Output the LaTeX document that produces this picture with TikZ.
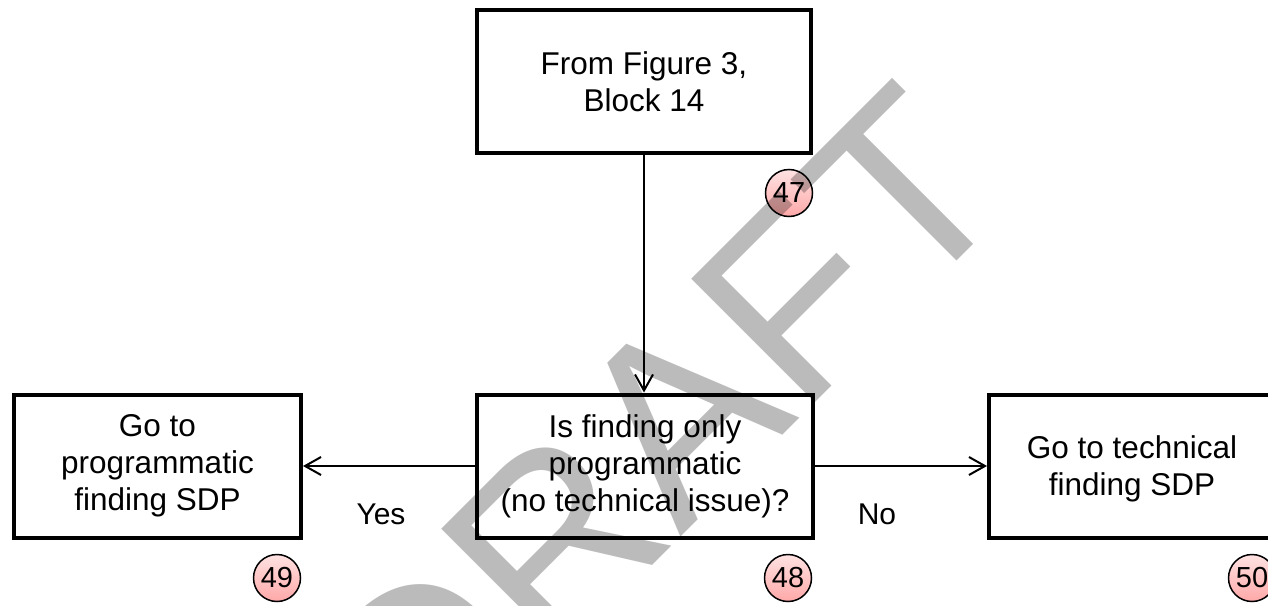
\documentclass[tikz,border=0pt]{standalone}
\usepackage{fontspec}
\setmainfont{Liberation Sans}
\usetikzlibrary{arrows.meta}
\definecolor{wm}{RGB}{187,187,187}
\definecolor{btop}{RGB}{255,226,226}
\definecolor{bbot}{RGB}{255,168,168}
\begin{document}
\begin{tikzpicture}[x=1pt,y=-1pt,
  box/.style={draw,line width=4pt,minimum width=#1,minimum height=143pt,inner sep=0pt,align=center,font=\fontsize{31.5}{37}\selectfont},
  badge/.style={circle,draw,line width=1.5pt,minimum size=47pt,inner sep=0pt,top color=btop,bottom color=bbot,font=\fontsize{29}{29}\selectfont},
  conn/.style={line width=2pt,-{Straight Barb[length=16pt,width=18pt,line width=2pt]}},
  lbl/.style={font=\fontsize{30}{30}\selectfont,inner sep=0pt},
  wmtext/.style={anchor=base west,rotate=45,inner sep=0pt,text=wm,font=\fontsize{254}{254}\selectfont}]
\useasboundingbox (0,0) rectangle (1268,605);
\fill[white] (0,0) rectangle (1268,605);
\clip (0,0) rectangle (1268,605);
\node[box=334pt] (top) at (644,81.5) {From Figure 3,\\Block 14};
\node[box=336pt] (mid) at (645,466) {Is finding only\\programmatic\\(no technical issue)?};
\node[box=287pt] (left) at (157.5,466) {Go to\\programmatic\\finding SDP};
\node[box=288pt] (right) at (1133,466) {};
\node[align=center,inner sep=0pt,font=\fontsize{31.5}{37}\selectfont] (righttext) at (1132,469) {Go to technical\\finding SDP};
\draw[conn] (top.south) -- (top.south |- mid.north);
\draw[conn] (mid.west) -- (left.east);
\draw[conn] (mid.east) -- (right.west);
\node[lbl] (yes) at (381,514) {Yes};
\node[lbl] (no) at (877,514) {No};
\node[badge] (b47) at (789,193) {47};
\node[badge] (b48) at (788,578) {48};
\node[badge] (b49) at (277,578) {49};
\node[badge] (b50) at (1252,578) {50};
\begin{scope}[blend mode=multiply]
\node[wmtext] (draft) at (421,797) {DRAFT};
\end{scope}
\end{tikzpicture}
\end{document}
